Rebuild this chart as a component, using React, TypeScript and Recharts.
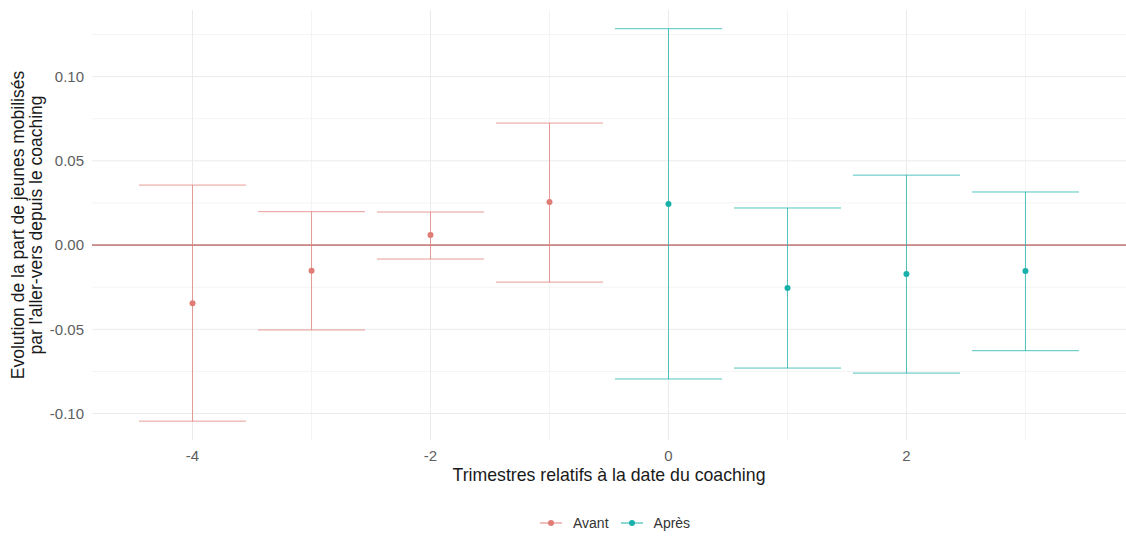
import React from 'react';
import {
  ComposedChart,
  Scatter,
  ErrorBar,
  XAxis,
  YAxis,
  ReferenceLine,
} from 'recharts';

// trimestres relatifs
const avantX = [-4, -3, -2, -1];
const apresX = [0, 1, 2, 3];

// estimations
const avantEst = [-0.0346, -0.0152, 0.0059, 0.0255];
const apresEst = [0.0243, -0.0255, -0.0172, -0.0154];

// bornes des intervalles
const avantLow = [-0.1045, -0.0504, -0.0083, -0.022];
const avantHigh = [0.0356, 0.0198, 0.0196, 0.0724];
const apresLow = [-0.0795, -0.073, -0.076, -0.0627];
const apresHigh = [0.1284, 0.022, 0.0415, 0.0315];

const seriesNames = ['Avant', 'Après'];
const xTicks = [-4, -2, 0, 2];
const xMinor = [-3, -1, 1, 3];
const yTicks = [-0.1, -0.05, 0, 0.05, 0.1];
const yMinor = [-0.075, -0.025, 0.025, 0.075, 0.125];

const X_DOMAIN: [number, number] = [-4.845, 3.845];
const Y_DOMAIN: [number, number] = [-0.1157, 0.1395];

const RED = '#E07C76';
const TEAL = '#19B0AA';

const W = 1126;
const H = 536;
const PLOT_LEFT = 92;
const PLOT_W = W - PLOT_LEFT;
const CAP_HALF = (PLOT_W / (X_DOMAIN[1] - X_DOMAIN[0])) * 0.45;

const build = (xs: number[], est: number[], low: number[], high: number[]) =>
  xs.map((x, i) => ({
    x,
    y: est[i],
    err: [est[i] - low[i], high[i] - est[i]],
  }));

const avantData = build(avantX, avantEst, avantLow, avantHigh);
const apresData = build(apresX, apresEst, apresLow, apresHigh);

const FONT = '"Liberation Sans", Arial, sans-serif';

const YTitle = (props: any) => {
  const vb = props.viewBox || {};
  const cy = vb.y + vb.height / 2;
  return (
    <text
      transform={`translate(0, ${cy}) rotate(-90)`}
      textAnchor="middle"
      fontSize={17.5}
      fill="#1a1a1a"
      fontFamily={FONT}
    >
      <tspan x={0} y={24}>Evolution de la part de jeunes mobilisés</tspan>
      <tspan x={0} y={42}>par l'aller-vers depuis le coaching</tspan>
    </text>
  );
};

const XTitle = (props: any) => {
  const vb = props.viewBox || {};
  return (
    <text
      x={vb.x + vb.width / 2}
      y={vb.y + 41}
      textAnchor="middle"
      fontSize={17.7}
      fill="#1a1a1a"
      fontFamily={FONT}
    >
      Trimestres relatifs à la date du coaching
    </text>
  );
};

const Glyph = ({ color }: { color: string }) => (
  <svg width={22} height={10} style={{ verticalAlign: 'middle' }}>
    <line x1={0} y1={5} x2={22} y2={5} stroke={color} strokeWidth={1} />
    <circle cx={11} cy={5} r={3} fill={color} />
  </svg>
);

export default function App() {
  return (
    <div style={{ position: 'absolute', left: 0, top: 0, width: W, height: H, background: '#fff' }}>
      <ComposedChart width={W} height={H} margin={{ top: 10, right: 0, bottom: 46, left: 0 }}>
        {xMinor.map((v) => (
          <ReferenceLine key={`vx${v}`} x={v} stroke="#F4F4F4" />
        ))}
        {yMinor.map((v) => (
          <ReferenceLine key={`hy${v}`} y={v} stroke="#F4F4F4" />
        ))}
        {xTicks.map((v) => (
          <ReferenceLine key={`mx${v}`} x={v} stroke="#EBEBEB" />
        ))}
        {yTicks.map((v) => (
          <ReferenceLine key={`my${v}`} y={v} stroke="#EBEBEB" />
        ))}
        <XAxis
          type="number"
          dataKey="x"
          domain={X_DOMAIN}
          ticks={xTicks}
          allowDataOverflow
          height={50}
          axisLine={false}
          tickLine={false}
          tickMargin={4}
          tick={{ fill: '#5E5E5E', fontSize: 15, fontFamily: FONT }}
          label={<XTitle />}
        />
        <YAxis
          type="number"
          domain={Y_DOMAIN}
          ticks={yTicks}
          allowDataOverflow
          width={PLOT_LEFT}
          axisLine={false}
          tickLine={false}
          tick={{ fill: '#5E5E5E', fontSize: 15, fontFamily: FONT }}
          tickFormatter={(v: number) => v.toFixed(2)}
          label={<YTitle />}
        />
        <ReferenceLine y={0} stroke="#A83232" strokeWidth={1} />
        <Scatter name={seriesNames[0]} data={avantData} dataKey="y" fill={RED} isAnimationActive={false}
          shape={(p: any) => <circle cx={p.cx} cy={p.cy} r={3} fill={RED} />}>
          <ErrorBar dataKey="err" direction="y" width={CAP_HALF} stroke={RED} strokeOpacity={0.75} strokeWidth={1} isAnimationActive={false} />
        </Scatter>
        <Scatter name={seriesNames[1]} data={apresData} dataKey="y" fill={TEAL} isAnimationActive={false}
          shape={(p: any) => <circle cx={p.cx} cy={p.cy} r={3} fill={TEAL} />}>
          <ErrorBar dataKey="err" direction="y" width={CAP_HALF} stroke={TEAL} strokeOpacity={0.75} strokeWidth={1} isAnimationActive={false} />
        </Scatter>
      </ComposedChart>
      <div
        style={{
          position: 'absolute',
          top: 515,
          left: 540,
          display: 'flex',
          alignItems: 'center',
          fontFamily: FONT,
          fontSize: 14,
          color: '#333',
          whiteSpace: 'nowrap',
        }}
      >
        {seriesNames.map((n, i) => (
          <span key={n} style={{ display: 'inline-flex', alignItems: 'center', marginRight: 12 }}>
            <Glyph color={i === 0 ? RED : TEAL} />
            <span style={{ marginLeft: 11 }}>{n}</span>
          </span>
        ))}
      </div>
    </div>
  );
}
